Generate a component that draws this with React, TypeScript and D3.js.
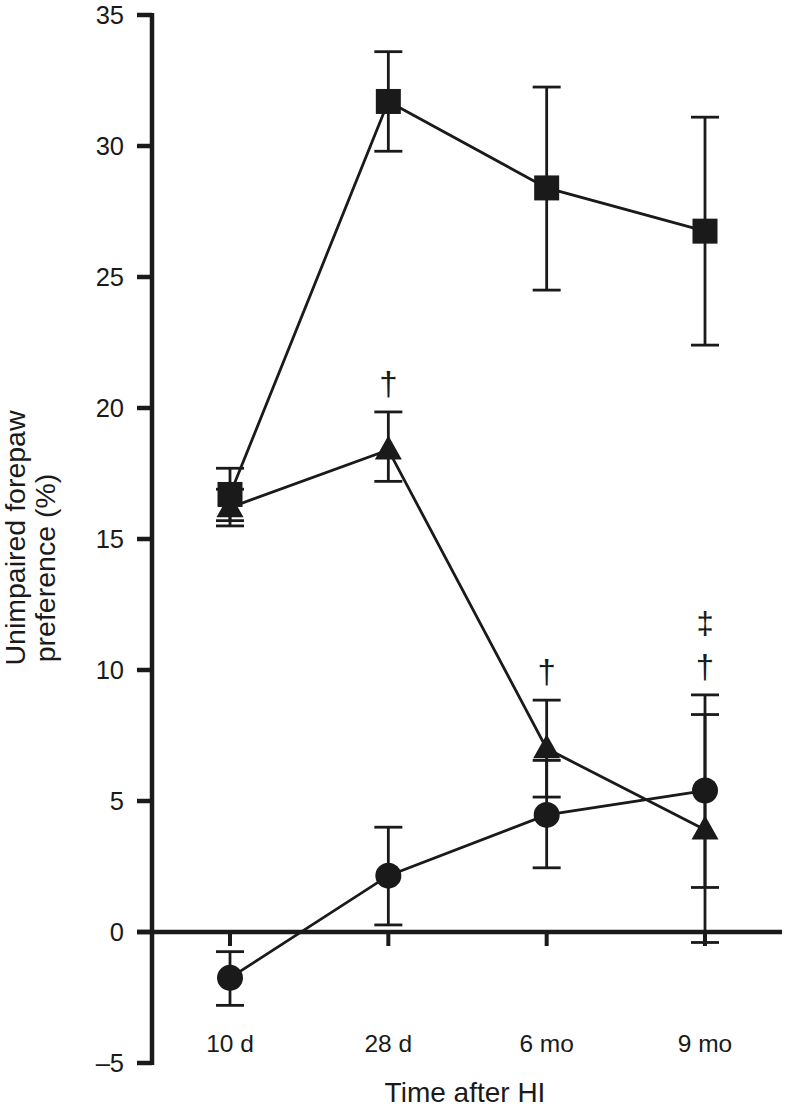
import React from "react";
import * as d3 from "d3";

const categories = ["10 d", "28 d", "6 mo", "9 mo"];
const yTicks = [-5, 0, 5, 10, 15, 20, 25, 30, 35];

const squareMean = [16.7, 31.7, 28.4, 26.75];
const squareUpper = [17.7, 33.6, 32.25, 31.1];
const squareLower = [15.7, 29.8, 24.5, 22.4];

const triangleMean = [16.2, 18.4, 7.0, 3.9];
const triangleUpper = [16.9, 19.85, 8.85, 8.3];
const triangleLower = [15.5, 17.2, 5.15, -0.4];

const circleMean = [-1.75, 2.15, 4.47, 5.4];
const circleUpper = [-0.75, 4.0, 6.55, 9.05];
const circleLower = [-2.8, 0.27, 2.45, 1.7];

const daggerMarks = ["", "†", "†", "†"];
const doubleDaggerMarks = ["", "", "", "‡"];

export default function App() {
  const W = 786, H = 1109;
  const y = d3.scaleLinear().domain([-5, 35]).range([1063, 15]);
  const x = d3.scalePoint<string>().domain(categories).range([230, 705]);
  const font = "'Liberation Sans', Arial, Helvetica, sans-serif";
  const line = d3.line<[number, number]>();
  const ink = "#1a1a1a";

  const series = [
    { mean: circleMean, up: circleUpper, lo: circleLower, shape: "circle" },
    { mean: triangleMean, up: triangleUpper, lo: triangleLower, shape: "triangle" },
    { mean: squareMean, up: squareUpper, lo: squareLower, shape: "square" },
  ];

  const marker = (shape: string, cx: number, cy: number, key: string) => {
    if (shape === "circle") return <circle key={key} cx={cx} cy={cy} r={13} fill={ink} />;
    if (shape === "square") return <rect key={key} x={cx - 12.5} y={cy - 12.5} width={25} height={25} fill={ink} />;
    const h = 24, b = 27;
    return <path key={key} d={`M${cx},${cy - h * 0.6}L${cx + b / 2},${cy + h * 0.4}L${cx - b / 2},${cy + h * 0.4}Z`} fill={ink} />;
  };

  return (
    <div style={{ position: "absolute", left: 0, top: 0 }}>
      <svg width={W} height={H} style={{ display: "block", background: "#fff" }}>
        {series.map((s, si) =>
          categories.map((c, i) => {
            const cx = x(c)!;
            return (
              <g key={`e${si}${i}`} stroke={ink} strokeWidth={2.8}>
                <line x1={cx} x2={cx} y1={y(s.up[i])} y2={y(s.lo[i])} />
                <line x1={cx - 14} x2={cx + 14} y1={y(s.up[i])} y2={y(s.up[i])} />
                <line x1={cx - 14} x2={cx + 14} y1={y(s.lo[i])} y2={y(s.lo[i])} />
              </g>
            );
          })
        )}
        <line x1={152} x2={152} y1={y(35) - 2} y2={y(-5) + 2} stroke={ink} strokeWidth={4.5} />
        {yTicks.map((t) => (
          <g key={`yt${t}`}>
            <line x1={137} x2={152} y1={y(t)} y2={y(t)} stroke={ink} strokeWidth={4.5} />
            <text x={124} y={y(t)} dy="0.36em" textAnchor="end" fontFamily={font} fontSize={25.5} fill={ink}>
              {t < 0 ? `\u2013${Math.abs(t)}` : t}
            </text>
          </g>
        ))}
        <line x1={137} x2={782} y1={y(0)} y2={y(0)} stroke={ink} strokeWidth={4.5} />
        {categories.map((c) => (
          <g key={`xt${c}`}>
            <line x1={x(c)!} x2={x(c)!} y1={y(0)} y2={y(0) + 14} stroke={ink} strokeWidth={4} />
            <text x={x(c)!} y={1052} textAnchor="middle" fontFamily={font} fontSize={24.5} fill={ink}>
              {c}
            </text>
          </g>
        ))}
        {series.map((s, si) => (
          <path
            key={`l${si}`}
            d={line(categories.map((c, i) => [x(c)!, y(s.mean[i])]))!}
            fill="none"
            stroke={ink}
            strokeWidth={2.8}
          />
        ))}
        {series.map((s, si) => categories.map((c, i) => marker(s.shape, x(c)!, y(s.mean[i]), `m${si}${i}`)))}
        {categories.map((c, i) => {
          const anchor = y(Math.max(triangleUpper[i], circleUpper[i])) - 17;
          return (
            <g key={`s${i}`}>
              {daggerMarks[i] && (
                <text x={x(c)!} y={anchor} textAnchor="middle" fontFamily={font} fontSize={33} fill={ink}>
                  {daggerMarks[i]}
                </text>
              )}
              {doubleDaggerMarks[i] && (
                <text x={x(c)!} y={anchor - 44} textAnchor="middle" fontFamily={font} fontSize={31} fill={ink}>
                  {doubleDaggerMarks[i]}
                </text>
              )}
            </g>
          );
        })}
        <text transform={`translate(25,538) rotate(-90)`} textAnchor="middle" fontFamily={font} fontSize={28.5} fill={ink}>
          Unimpaired forepaw
        </text>
        <text transform={`translate(55,568) rotate(-90)`} textAnchor="middle" fontFamily={font} fontSize={28.5} fill={ink}>
          preference (%)
        </text>
        <text x={465} y={1102} textAnchor="middle" fontFamily={font} fontSize={28} fill={ink}>
          Time after HI
        </text>
      </svg>
    </div>
  );
}
